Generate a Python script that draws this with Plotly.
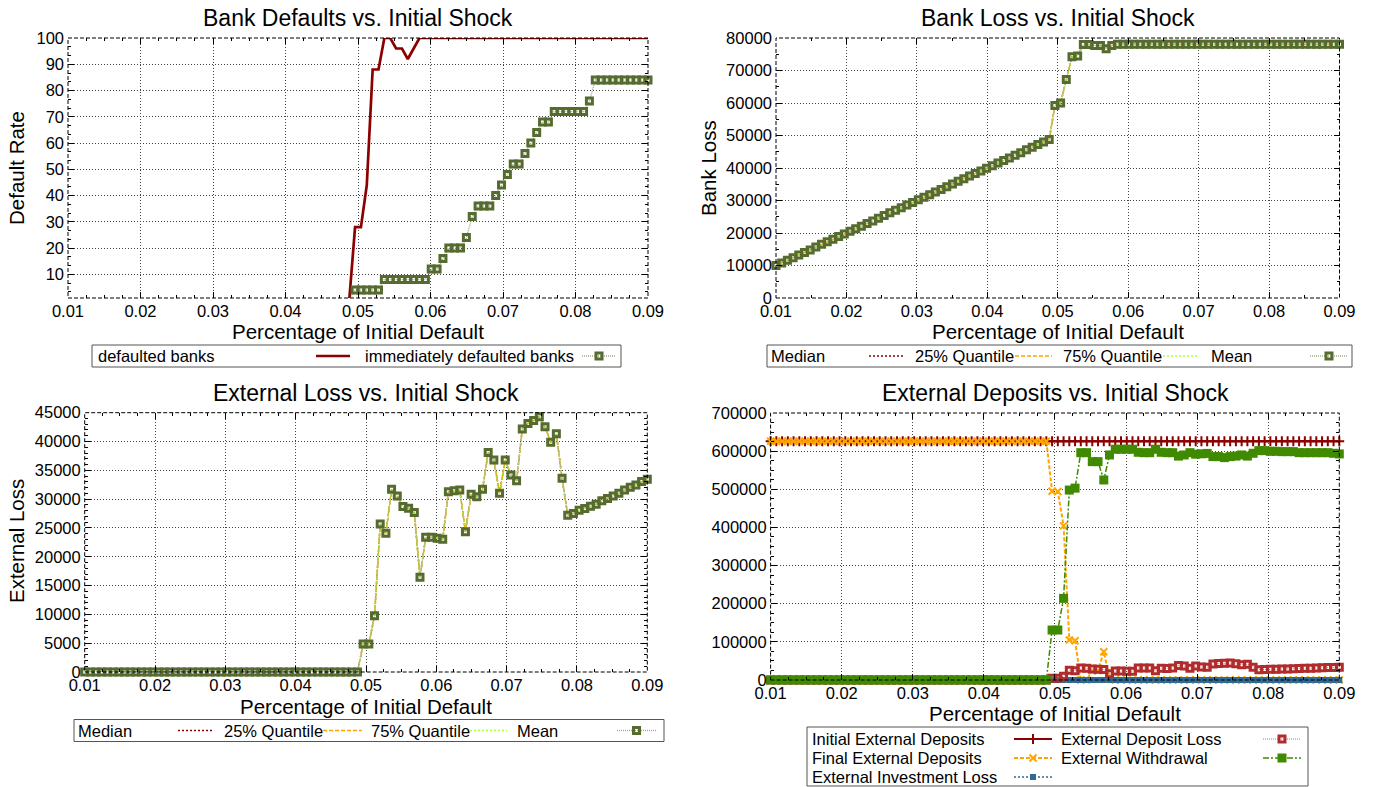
import numpy as np
import plotly.graph_objects as go

W, H = 1376, 787
FONT = "Liberation Sans"

# ---------------------------------------------------------------- data
# shock grid: 100 evenly spaced initial-default fractions
shock = np.linspace(0.01, 0.09, 100)
x_ticks = [0.01, 0.02, 0.03, 0.04, 0.05, 0.06, 0.07, 0.08, 0.09]

# default rate (%)
defaulted_banks = [0] * 49 + [28, 28, 44, 88, 88, 100, 100, 96, 96, 92, 96] + [100] * 40
immediately_defaulted = ([0] * 49 + [4] * 5 + [8] * 8 + [12] * 2 + [16] + [20] * 3 + [24, 32]
                         + [36] * 3 + [40, 44, 48] + [52] * 2 + [56, 60, 64] + [68] * 2
                         + [72] * 6 + [76] + [84] * 10)

# bank loss (median, quartiles and mean coincide)
bank_loss = ([10000, 10800, 11600, 12400, 13200, 14000, 14800, 15700, 16500, 17300,
              18100, 18900, 19700, 20500, 21300, 22100, 22900, 23700, 24500, 25400,
              26200, 27000, 27800, 28600, 29400, 30200, 31000, 31800, 32600, 33400,
              34200, 35100, 35900, 36700, 37500, 38300, 39100, 39900, 40700, 41500,
              42300, 43100, 43900, 44700, 45600, 46400, 47200, 48000, 48800,
              59200, 60000, 67200, 74200, 74500, 78000, 78000, 77700, 77700, 76700, 77700]
             + [78100] * 40)

# external loss (median, quartiles and mean coincide)
external_loss = [0] * 49 + [
    4850, 4850, 9760, 25700, 24080, 31700, 30540, 28700, 28400, 27660,
    16450, 23380, 23380, 23210, 23040, 31290, 31470, 31580, 24360, 30830,
    30430, 31700, 38100, 36780, 31000, 36780, 34180, 33200, 42150, 43130,
    43660, 44300, 42550, 39870, 41330, 33620, 27200, 27500, 28080, 28370,
    28780, 29130, 29710, 30120, 30530, 31000, 31580, 32050, 32460, 33040, 33450]

# external deposits
initial_deposits = [626000] * 100
final_deposits = ([626000] * 49 + [495000, 494000, 404000, 105000, 103000, 0, 0,
                                    24000, 25000, 74000, 6000] + [0] * 40)
investment_loss = [0] * 100
deposit_loss = list(external_loss)
withdrawal = [0] * 49 + [
    131000, 131000, 214000, 498000, 503000, 596000, 596000, 572500, 572500, 524500,
    590000, 605000, 605000, 605000, 605000, 597000, 596000, 596000, 605000, 597000,
    596000, 596000, 587000, 590000, 596000, 592000, 593000, 594000, 585700, 585700,
    583000, 585700, 587000, 590000, 587000, 594400, 601400, 601400, 599600, 599600,
    598700, 598700, 598700, 596000, 596000, 596000, 596000, 596000, 596000, 594400,
    592700]

# ---------------------------------------------------------------- styles
DARK_RED = "#8b0000"
ORANGE = "#ffa500"
LIME = "#adff2f"
OLIVE = "#556b2f"
OLIVE_LINE = "#a4ab90"
BLUE = "#2f6a96"
BRICK = "#b02c2c"
BRICK_LINE = "#d07070"
GREEN = "#3f8a00"

MEAN_MARKER = dict(symbol="square-open", size=6, color=OLIVE, line=dict(width=3, color=OLIVE))

# plot rectangles in pixels: left, top, right, bottom
P = {
    1: (68, 38, 648, 298),
    2: (776, 38, 1339.5, 298),
    3: (84.7, 412.7, 647.3, 672),
    4: (770.6, 413, 1339.3, 680),
}

fig = go.Figure()


def ax(i):
    return ("x" if i == 1 else f"x{i}"), ("y" if i == 1 else f"y{i}")


# ---- Bank defaults
xa, ya = ax(1)
fig.add_trace(go.Scatter(x=shock, y=defaulted_banks, mode="lines", xaxis=xa, yaxis=ya,
                         line=dict(color=DARK_RED, width=2.7)))
fig.add_trace(go.Scatter(x=shock, y=immediately_defaulted, mode="lines+markers", xaxis=xa, yaxis=ya,
                         cliponaxis=False,
                         line=dict(color=OLIVE_LINE, width=1.5, dash="1px,1px"),
                         marker=dict(MEAN_MARKER, opacity=[1 if v >= 1 else 0 for v in immediately_defaulted])))

# ---- Bank loss & External loss
for i, series in ((2, bank_loss), (3, external_loss)):
    xa, ya = ax(i)
    for color, dash in ((DARK_RED, "2px,2px"), (ORANGE, "4px,2px"), (LIME, "2px,2px")):
        fig.add_trace(go.Scatter(x=shock, y=series, mode="lines", xaxis=xa, yaxis=ya,
                                 line=dict(color=color, width=1.5, dash=dash)))
    fig.add_trace(go.Scatter(x=shock, y=series, mode="lines+markers", xaxis=xa, yaxis=ya,
                             cliponaxis=False,
                             line=dict(color=OLIVE_LINE, width=1, dash="1px,1px"),
                             marker=MEAN_MARKER))

# ---- External deposits
xa, ya = ax(4)
fig.add_trace(go.Scatter(x=shock, y=initial_deposits, mode="lines+markers", xaxis=xa, yaxis=ya,
                         cliponaxis=False, line=dict(color=DARK_RED, width=2),
                         marker=dict(symbol="cross-thin", size=7, line=dict(width=2, color=DARK_RED))))
fig.add_trace(go.Scatter(x=shock, y=final_deposits, mode="lines+markers", xaxis=xa, yaxis=ya,
                         cliponaxis=False, line=dict(color=ORANGE, width=2, dash="4px,2px"),
                         marker=dict(symbol="x-thin", size=7, line=dict(width=2, color=ORANGE))))
fig.add_trace(go.Scatter(x=shock, y=investment_loss, mode="lines+markers", xaxis=xa, yaxis=ya,
                         cliponaxis=False, line=dict(color=BLUE, width=1.5, dash="2px,2px"),
                         marker=dict(symbol="square", size=6, color=BLUE)))
fig.add_trace(go.Scatter(x=shock, y=deposit_loss, mode="lines+markers", xaxis=xa, yaxis=ya,
                         cliponaxis=False, line=dict(color=BRICK_LINE, width=1, dash="1px,1px"),
                         marker=dict(symbol="square-open", size=6, color=BRICK, line=dict(width=3, color=BRICK))))
fig.add_trace(go.Scatter(x=shock, y=withdrawal, mode="lines+markers", xaxis=xa, yaxis=ya,
                         cliponaxis=False, line=dict(color=GREEN, width=1.5, dash="6px,2px,2px,2px"),
                         marker=dict(symbol="square", size=9, color=GREEN)))

# ---------------------------------------------------------------- axes
tickfont = dict(family=FONT, size=16.5, color="black")


def xaxis_cfg(i, minor):
    l, t, r, b = P[i]
    return dict(domain=[l / W, r / W], range=[0.01, 0.09], anchor=ax(i)[1], automargin=False,
                tickvals=x_ticks, ticktext=[f"{v:.2f}" for v in x_ticks],
                showgrid=True, gridcolor="#444", griddash="1px,2px", gridwidth=1,
                ticks="inside", ticklen=6, tickcolor="black", mirror="ticks",
                showline=False, zeroline=False, tickfont=tickfont, ticklabelstandoff=1,
                minor=dict(ticks="inside", ticklen=3, tickcolor="black", dtick=minor,
                           tick0=0.01, showgrid=False))


def yaxis_cfg(i, rng, dtick, minor):
    l, t, r, b = P[i]
    return dict(domain=[1 - b / H, 1 - t / H], range=rng, anchor=ax(i)[0], automargin=False,
                dtick=dtick, tick0=0, tickformat="d",
                showgrid=True, gridcolor="#444", griddash="1px,2px", gridwidth=1,
                ticks="inside", ticklen=6, tickcolor="black", mirror="ticks",
                showline=False, zeroline=False, tickfont=tickfont, ticklabelstandoff=3,
                minor=dict(ticks="inside", ticklen=3, tickcolor="black", dtick=minor,
                           tick0=0, showgrid=False))


layout = dict(
    template="none",
    width=W, height=H, autosize=False, margin=dict(l=0, r=0, t=0, b=0, pad=0),
    paper_bgcolor="white", plot_bgcolor="rgba(0,0,0,0)", showlegend=False,
    xaxis=xaxis_cfg(1, 0.0025), yaxis=yaxis_cfg(1, [1, 100], 10, 10 / 3),
    xaxis2=xaxis_cfg(2, 0.005), yaxis2=yaxis_cfg(2, [0, 80000], 10000, 5000),
    xaxis3=xaxis_cfg(3, 0.0025), yaxis3=yaxis_cfg(3, [0, 45000], 5000, 1000),
    xaxis4=xaxis_cfg(4, 0.0025), yaxis4=yaxis_cfg(4, [0, 700000], 100000, 25000),
    # full-page pixel frame for titles and keys
    xaxis5=dict(domain=[0, 1], range=[0, W], visible=False, fixedrange=True, anchor="y5",
                automargin=False),
    yaxis5=dict(domain=[0, 1], range=[H, 0], visible=False, fixedrange=True, anchor="x5",
                automargin=False),
)
fig.update_layout(**layout)

shapes = []
for i in P:
    xa, ya = ax(i)
    shapes.append(dict(type="rect", xref=f"{xa} domain", yref=f"{ya} domain", x0=0, x1=1, y0=0, y1=1,
                       line=dict(color="black", width=1, dash="4px,2px"), layer="above"))

annotations = []


def text(x, y, s, size, anchor="center", angle=0):
    annotations.append(dict(x=x, y=y, xref="x5", yref="y5", text=s, showarrow=False,
                            xanchor=anchor, yanchor="middle", textangle=angle,
                            font=dict(family=FONT, size=size, color="black")))


# titles
text(358, 18, "Bank Defaults vs. Initial Shock", 23)
text(1058, 18, "Bank Loss vs. Initial Shock", 23)
text(366, 393, "External Loss vs. Initial Shock", 23)
text(1055, 393, "External Deposits vs. Initial Shock", 23)
# axis titles
for cx, cy in ((358, 331), (1058, 331), (366, 706), (1055, 713)):
    text(cx, cy, "Percentage of Initial Default", 20.5)
text(16, 168, "Default Rate", 20.5, angle=-90)
text(708, 168, "Bank Loss", 20.5, angle=-90)
text(16, 541, "External Loss", 20.5, angle=-90)


def key_box(x0, y0, x1, y1):
    shapes.append(dict(type="rect", xref="x5", yref="y5", x0=x0, x1=x1, y0=y0, y1=y1,
                       line=dict(color="#555", width=1), fillcolor="white", layer="below"))


def sample(x0, x1, y, line, marker=None):
    if marker is None:
        fig.add_trace(go.Scatter(x=[x0, x1], y=[y, y], mode="lines", xaxis="x5", yaxis="y5",
                                 line=line, hoverinfo="skip"))
    else:
        fig.add_trace(go.Scatter(x=[x0, (x0 + x1) / 2, x1], y=[y, y, y], mode="lines+markers",
                                 xaxis="x5", yaxis="y5", line=line, hoverinfo="skip",
                                 marker=dict(marker, opacity=[0, 1, 0])))


KEY = 16.5
mean_line = dict(color=OLIVE_LINE, width=1.5, dash="1px,1px")

# key: bank defaults
key_box(92, 345, 621, 367)
text(96, 356, "defaulted banks", KEY, "left")
sample(316, 350, 356, dict(color=DARK_RED, width=2.7))
text(363, 356, "immediately defaulted banks", KEY, "left")
sample(582, 616, 356, mean_line, MEAN_MARKER)

# keys: quantile charts
for (bx0, bx1, by), offs in (((767, 1352, 356), 0), ((74, 664, 730.5), 1)):
    key_box(bx0, by - 11, bx1, by + 11)
    if offs == 0:
        pos = (769, 869, 905, 913, 1015, 1052, 1061, 1163, 1199, 1209, 1310, 1348)
    else:
        pos = (76, 178, 214, 222, 323, 362, 369, 470, 507, 515, 617, 656)
    text(pos[0], by, "Median", KEY, "left")
    sample(pos[1], pos[2], by, dict(color=DARK_RED, width=1.5, dash="2px,2px"))
    text(pos[3], by, "25% Quantile", KEY, "left")
    sample(pos[4], pos[5], by, dict(color=ORANGE, width=1.5, dash="4px,2px"))
    text(pos[6], by, "75% Quantile", KEY, "left")
    sample(pos[7], pos[8], by, dict(color=LIME, width=1.5, dash="2px,2px"))
    text(pos[9], by, "Mean", KEY, "left")
    sample(pos[10], pos[11], by, mean_line, MEAN_MARKER)

# key: external deposits
key_box(807, 727, 1308, 786)
rows = (739, 758, 777)
text(810, rows[0], "Initial External Deposits", KEY, "left")
sample(1014, 1052, rows[0], dict(color=DARK_RED, width=2),
       dict(symbol="cross-thin", size=7, line=dict(width=2, color=DARK_RED)))
text(810, rows[1], "Final External Deposits", KEY, "left")
sample(1014, 1052, rows[1], dict(color=ORANGE, width=2, dash="4px,2px"),
       dict(symbol="x-thin", size=7, line=dict(width=2, color=ORANGE)))
text(810, rows[2], "External Investment Loss", KEY, "left")
sample(1014, 1052, rows[2], dict(color=BLUE, width=1.5, dash="2px,2px"),
       dict(symbol="square", size=6, color=BLUE))
text(1059, rows[0], "External Deposit Loss", KEY, "left")
sample(1263, 1301, rows[0], dict(color=BRICK_LINE, width=1, dash="1px,1px"),
       dict(symbol="square-open", size=6, color=BRICK, line=dict(width=3, color=BRICK)))
text(1059, rows[1], "External Withdrawal", KEY, "left")
sample(1263, 1301, rows[1], dict(color=GREEN, width=1.5, dash="6px,2px,2px,2px"),
       dict(symbol="square", size=9, color=GREEN))

fig.update_layout(shapes=shapes, annotations=annotations)
fig.write_html("out.html")
